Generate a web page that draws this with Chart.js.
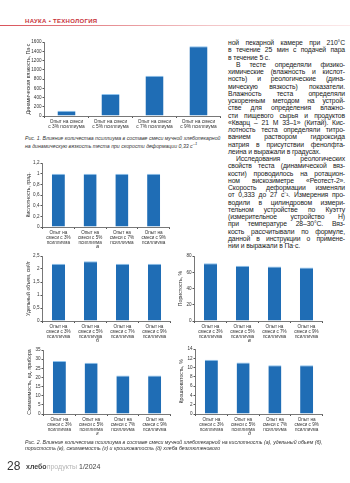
<!DOCTYPE html>
<html>
<head>
<meta charset="utf-8">
<script src="https://cdn.jsdelivr.net/npm/chart.js@4.4.1/dist/chart.umd.min.js"></script>
<style>
  html, body { margin: 0; padding: 0; background: #fff; }
  body { width: 350px; height: 483px; position: relative; overflow: hidden; font-family: "Liberation Sans", Arial, sans-serif; color: #222; }
  canvas { position: absolute; }
  .hdr { position: absolute; left: 25px; top: 18px; font-size: 6px; font-weight: bold; color: #c8323a; letter-spacing: 0.3px; }
  .hline { position: absolute; left: 0; top: 25px; width: 350px; height: 1px; background: linear-gradient(to right, #d9535a, #f3c5c7 60%, #fbe9ea); }
  .cap { position: absolute; left: 25px; font-size: 5.2px; font-style: italic; line-height: 6px; color: #333; white-space: nowrap; }
  .sub { position: absolute; font-size: 5.5px; font-style: italic; color: #333; }
  .col { position: absolute; left: 228px; top: 39px; width: 117px; font-size: 6.8px; letter-spacing: -0.12px; line-height: 7.25px; color: #222; }
  .col div { text-align: justify; text-align-last: justify; white-space: nowrap; }
  .col div.end { text-align-last: left; }
  .col div.ind { text-indent: 8px; }
  .foot { position: absolute; left: 7px; top: 459px; font-size: 12px; color: #333; }
  .mag { position: absolute; left: 26px; top: 463px; font-size: 7px; color: #444; }
</style>
</head>
<body>
<div class="hdr">НАУКА • ТЕХНОЛОГИЯ</div>
<div class="hline"></div>

<canvas id="c1"></canvas>
<div class="cap" style="top:135px">Рис. 1. Влияние количества псиллиума в составе смеси мучной хлебопекарной<br>на динамическую вязкость теста при скорости деформации 0,33 с<sup style="font-size:4px">–1</sup></div>

<div class="col">
  <div>ной пекарной камере при 210°С</div>
  <div>в течение 25 мин с подачей пара</div>
  <div class="end">в течение 5 с.</div>
  <div class="ind">В тесте определяли физико-</div>
  <div>химические (влажность и кислот-</div>
  <div>ность) и реологические (дина-</div>
  <div>мическую вязкость) показатели.</div>
  <div>Влажность теста определяли</div>
  <div>ускоренным методом на устрой-</div>
  <div>стве для определения влажно-</div>
  <div>сти пищевого сырья и продуктов</div>
  <div>«Кварц – 21 М 33–1» (Китай). Кис-</div>
  <div>лотность теста определяли титро-</div>
  <div>ванием раствором гидроксида</div>
  <div>натрия в присутствии фенолфта-</div>
  <div class="end">леина и выражали в градусах.</div>
  <div class="ind">Исследования реологических</div>
  <div>свойств теста (динамической вяз-</div>
  <div>кости) проводилось на ротацион-</div>
  <div>ном вискозиметре «Реотест-2».</div>
  <div>Скорость деформации изменяли</div>
  <div>от 0,333 до 27 с⁻¹. Измерения про-</div>
  <div>водили в цилиндровом измери-</div>
  <div>тельном устройстве по Куэтту</div>
  <div>(измерительное устройство Н)</div>
  <div>при температуре 28–30°С. Вяз-</div>
  <div>кость рассчитывали по формуле,</div>
  <div>данной в инструкции о примене-</div>
  <div class="end">нии и выражали в Па·с.</div>
</div>

<canvas id="ca"></canvas>
<div class="sub" style="left:96px;top:243px">а</div>
<canvas id="cb"></canvas>
<div class="sub" style="left:96px;top:337px">б</div>
<canvas id="cv"></canvas>
<div class="sub" style="left:248px;top:337px">в</div>
<canvas id="cg"></canvas>
<div class="sub" style="left:96px;top:430px">г</div>
<canvas id="cd"></canvas>
<div class="sub" style="left:248px;top:430px">д</div>

<div class="cap" style="top:439px">Рис. 2. Влияние количества псиллиума в составе смеси мучной хлебопекарной на кислотность (а), удельный объем (б),<br>пористость (в), сжимаемость (г) и крошковатость (д) хлеба безглютенового</div>

<div class="foot">28</div>
<div class="mag"><b>хлебо</b><span style="color:#b5b5b5">продукты</span> 1/2024</div>

<script>
// подписи категорий
const labelsFig1 = [
  ['Опыт на смеси', 'с 3% псиллиума'],
  ['Опыт на смеси', 'с 5% псиллиума'],
  ['Опыт на смеси', 'с 7% псиллиума'],
  ['Опыт на смеси', 'с 9% псиллиума']
];
const labelsFig2 = [
  ['Опыт на', 'смеси с 3%', 'псиллиума'],
  ['Опыт на', 'смеси с 5%', 'псиллиума'],
  ['Опыт на', 'смеси с 7%', 'псиллиума'],
  ['Опыт на', 'смеси с 9%', 'псиллиума']
];

// значения
const viscosity = [115, 475, 870, 1510];
const acidity = [1, 1, 1, 1];
const specVolume = [2.2, 2.3, 2.2, 2.2];
const porosity = [71, 68, 67, 66];
const compress = [29, 28, 21, 21];
const crumb = [11.7, 11.1, 10.5, 10.5];

// деления осей
const ticksVisc = [0, 200, 400, 600, 800, 1000, 1200, 1400, 1600];
const ticksAcid = [0, 0.2, 0.4, 0.6, 0.8, 1, 1.2];
const ticksVol = [0, 0.5, 1, 1.5, 2, 2.5];
const ticksPor = [0, 10, 20, 30, 40, 50, 60, 70, 80];
const ticksComp = [0, 5, 10, 15, 20, 25, 30, 35];
const ticksCrumb = [0, 2, 4, 6, 8, 10, 12, 14];

const BLUE = '#1f6db5';
const AXIS = '#555';
const FONT = "'Liberation Sans', Arial, sans-serif";

// area = [left, top, right, bottom] области построения на странице
function barChart(id, area, labels, values, ticks, title, axisW, labelSize) {
  var axisH = 17, padTop = 6, padRight = 4;
  var cv = document.getElementById(id);
  cv.width = (area[2] - area[0]) + axisW + padRight;
  cv.height = (area[3] - area[1]) + padTop + axisH;
  cv.style.left = (area[0] - axisW) + 'px';
  cv.style.top = (area[1] - padTop) + 'px';
  var chart = new Chart(cv.getContext('2d'), {
    type: 'bar',
    data: {
      labels: labels,
      datasets: [{
        data: values,
        backgroundColor: BLUE,
        borderColor: '#8ec3ee',
        borderWidth: { top: 1, left: 0, right: 0, bottom: 0 },
        borderSkipped: false,
        barPercentage: 0.41,
        categoryPercentage: 1
      }]
    },
    options: {
      responsive: false,
      animation: false,
      devicePixelRatio: 1,
      layout: { padding: { top: padTop, right: padRight, left: 0, bottom: 0 } },
      plugins: { legend: { display: false }, tooltip: { enabled: false } },
      scales: {
        x: {
          offset: true,
          grid: { display: true, drawOnChartArea: false, drawTicks: true, tickLength: 2, color: AXIS, offset: true },
          border: { color: AXIS, width: 0.8 },
          ticks: { color: '#333', font: { family: FONT, size: labelSize, lineHeight: 1.08 }, maxRotation: 0, autoSkip: false, padding: 1 },
          afterFit: function (s) { s.height = axisH; }
        },
        y: {
          min: ticks[0],
          max: ticks[ticks.length - 1],
          afterBuildTicks: function (s) { s.ticks = ticks.map(function (v) { return { value: v }; }); },
          grid: { display: true, drawOnChartArea: false, drawTicks: true, tickLength: 2, color: AXIS },
          border: { color: AXIS, width: 0.8 },
          ticks: {
            color: '#333', font: { family: FONT, size: 4.6 }, padding: 1,
            callback: function (v) { return String(v).replace('.', ','); }
          },
          title: { display: true, text: title, color: '#333', font: { family: FONT, size: 5.2, lineHeight: 1 }, padding: { top: 0, bottom: 0 } },
          afterFit: function (s) { s.width = axisW; }
        }
      }
    }
  });
  // подгоняем холст так, чтобы область построения совпала с макетом
  var ca = chart.chartArea;
  var p = chart.options.layout.padding;
  p.right += (ca.right - ca.left) - (area[2] - area[0]);
  chart.update();
  ca = chart.chartArea;
  cv.style.left = (area[0] - ca.left) + 'px';
  cv.style.top = (area[1] - ca.top) + 'px';
  return chart;
}

barChart('c1', [44, 42, 220, 116], labelsFig1, viscosity, ticksVisc, 'Динамическая вязкость, Па·с', 18.5, 4.8);
barChart('ca', [42, 163, 169, 227], labelsFig2, acidity, ticksAcid, 'Кислотность, град.', 16.5, 4.6);
barChart('cb', [42, 256, 170, 321], labelsFig2, specVolume, ticksVol, 'Удельный объем, см³/г', 16.5, 4.6);
barChart('cv', [194, 256, 322, 321], labelsFig2, porosity, ticksPor, 'Пористость, %', 16.5, 4.6);
barChart('cg', [43, 350, 170, 414], labelsFig2, compress, ticksComp, 'Сжимаемость, ед. прибора', 16.5, 4.6);
barChart('cd', [195, 349, 322, 414], labelsFig2, crumb, ticksCrumb, 'Крошковатость, %', 16.5, 4.6);
</script>
</body>
</html>
